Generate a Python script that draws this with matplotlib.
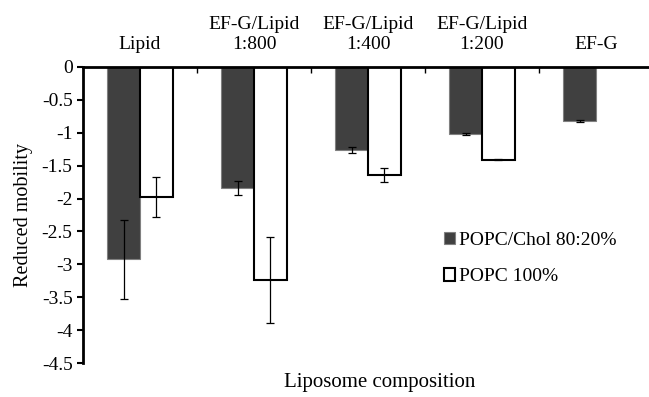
import matplotlib.pyplot as plt
import numpy as np

plt.rcParams["font.family"] = ["Liberation Serif", "DejaVu Serif"]

categories = ["Lipid", "EF-G/Lipid\n1:800", "EF-G/Lipid\n1:400", "EF-G/Lipid\n1:200", "EF-G"]
chol_vals = [-2.92, -1.84, -1.265, -1.02, -0.83]
chol_err = [0.60, 0.10, 0.04, 0.01, 0.015]
popc_vals = [-1.98, -3.24, -1.64, -1.41, np.nan]
popc_err = [0.30, 0.65, 0.11, 0.01, np.nan]
series_names = ["POPC/Chol 80:20%", "POPC 100%"]

W, H = 649, 397
fig = plt.figure(figsize=(W / 100, H / 100), dpi=100)
ax = fig.add_axes([83 / W, 1 - 363.3 / H, 570 / W, 296.6 / H])

x = np.arange(len(categories))
bw = 1 / 3.5
ax.bar(x - bw / 2, chol_vals, bw, color="#404040", edgecolor="#808080", lw=0.8,
       label=series_names[0], zorder=2)
ax.bar(x + bw / 2, popc_vals, bw, color="white", edgecolor="black", lw=1.5,
       label=series_names[1], zorder=2)
ax.errorbar(x - bw / 2, chol_vals, yerr=chol_err, fmt="none", ecolor="black",
            elinewidth=0.9, capsize=3, capthick=0.9, zorder=3)
ax.errorbar(x + bw / 2, popc_vals, yerr=popc_err, fmt="none", ecolor="black",
            elinewidth=0.9, capsize=3, capthick=0.9, zorder=3)

ax.set_xlim(-0.5, len(categories) - 0.5)
ax.set_ylim(-4.5, 0)
ax.set_yticks(np.arange(-4.5, 0.01, 0.5))
ax.set_yticklabels(["-4.5", "-4", "-3.5", "-3", "-2.5", "-2", "-1.5", "-1", "-0.5", "0"])

ax.xaxis.tick_top()
ax.set_xticks(x)
ax.set_xticklabels(categories, fontsize=14, linespacing=1.2)
ax.set_xticks(np.arange(0.5, len(categories) - 0.5), minor=True)
ax.tick_params(axis="x", which="major", length=0, pad=10)
ax.tick_params(axis="x", which="minor", direction="in", length=4, width=1)
ax.tick_params(axis="y", labelsize=14, direction="out", length=4, width=1.5)

for s in ["right", "bottom"]:
    ax.spines[s].set_visible(False)
ax.spines["top"].set_linewidth(2)
ax.spines["left"].set_linewidth(2)

ax.set_ylabel("Reduced mobility", fontsize=14.5, labelpad=6)
fig.text(380 / W, 1 - 382 / H, "Liposome composition", fontsize=15,
         ha="center", va="center")

ax.legend(loc="upper left", bbox_to_anchor=(436 / W, 1 - 224 / H),
          bbox_transform=fig.transFigure, frameon=False, fontsize=14,
          handlelength=0.6, handleheight=0.6, handletextpad=0.2,
          labelspacing=1.0, borderaxespad=0)

fig.savefig("out.png", dpi=100)
